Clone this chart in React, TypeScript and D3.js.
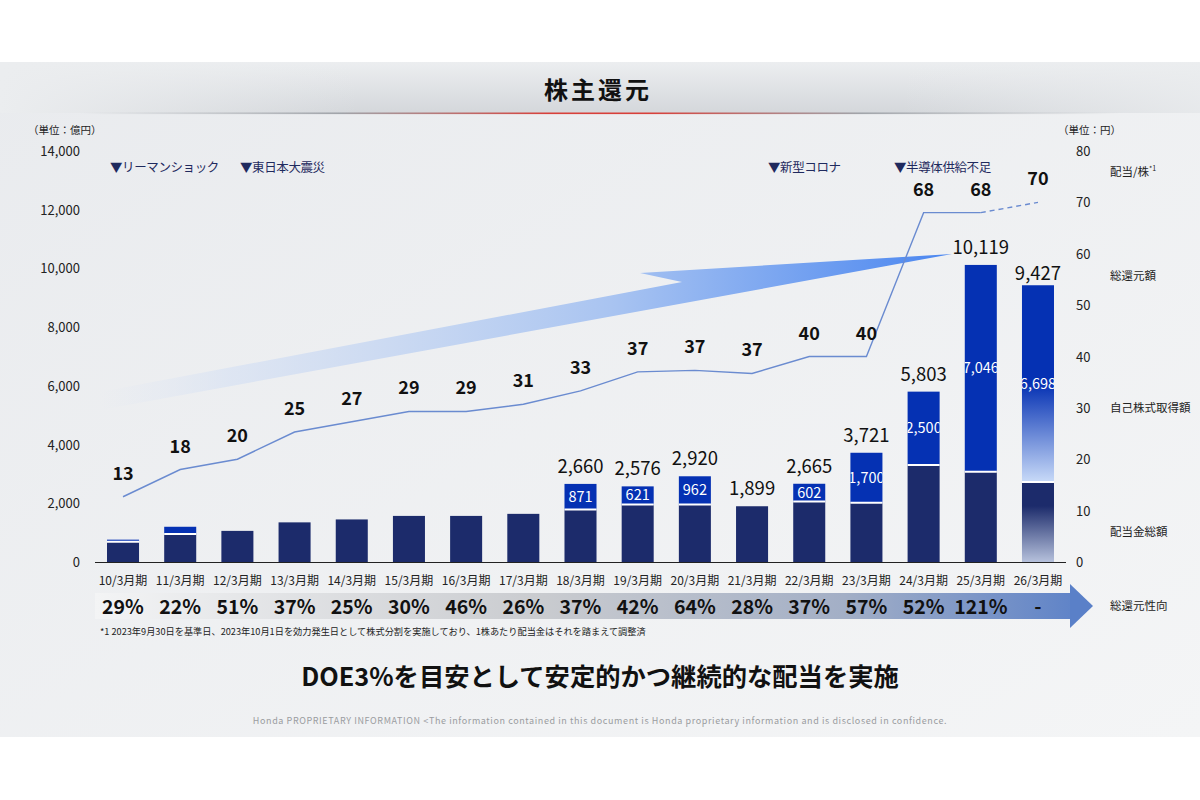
import * as d3 from 'd3'

const periods = ['10/3月期', '11/3月期', '12/3月期', '13/3月期', '14/3月期', '15/3月期', '16/3月期', '17/3月期', '18/3月期', '19/3月期', '20/3月期', '21/3月期', '22/3月期', '23/3月期', '24/3月期', '25/3月期', '26/3月期']
// 配当金総額 (億円)
const dividends = [686, 950, 1060, 1350, 1450, 1570, 1570, 1640, 1789, 1955, 1958, 1899, 2063, 2021, 3303, 3073, 2729]
// 自己株式取得額 (億円)
const buybacks = [75, 250, 0, 0, 0, 0, 0, 0, 871, 621, 962, 0, 602, 1700, 2500, 7046, 6698]
// 総還元額 labels (shown from 18/3)
const totalLabels = ['', '', '', '', '', '', '', '', '2,660', '2,576', '2,920', '1,899', '2,665', '3,721', '5,803', '10,119', '9,427']
const buybackLabels = ['', '', '', '', '', '', '', '', '871', '621', '962', '', '602', '1,700', '2,500', '7,046', '6,698']
// 配当/株 (円)
const dps = [12.7, 18, 20, 25.3, 27.3, 29.3, 29.3, 30.7, 33.3, 37, 37.3, 36.7, 40, 40, 68, 68, 70]
const dpsLabels = ['13', '18', '20', '25', '27', '29', '29', '31', '33', '37', '37', '37', '40', '40', '68', '68', '70']
// 総還元性向
const payout = ['29%', '22%', '51%', '37%', '25%', '30%', '46%', '26%', '37%', '42%', '64%', '28%', '37%', '57%', '52%', '121%', '-']
const leftTicks = [0, 2000, 4000, 6000, 8000, 10000, 12000, 14000]
const rightTicks = [0, 10, 20, 30, 40, 50, 60, 70, 80]
const events = [
  { label: '▼リーマンショック', x: 110 },
  { label: '▼東日本大震災', x: 240 },
  { label: '▼新型コロナ', x: 768 },
  { label: '▼半導体供給不足', x: 894 },
]
const sideLabels = [
  { label: '配当/株', sup: '*1', y: 176 },
  { label: '総還元額', y: 280 },
  { label: '自己株式取得額', y: 412 },
  { label: '配当金総額', y: 536 },
  { label: '総還元性向', y: 610 },
]

const FONT = '"Noto Sans CJK JP", "Noto Sans", sans-serif'
const NAVY = '#1c2b6b'
const BLUE = '#0531b3'

export default function App() {
  const x = d3.scaleBand<string>().domain(periods).range([95, 1066]).paddingInner(0.44).paddingOuter(0.21)
  const yL = d3.scaleLinear().domain([0, 14000]).range([562, 151])
  const yR = d3.scaleLinear().domain([0, 80]).range([562, 151])
  const bw = x.bandwidth()
  const cx = (i: number) => (x(periods[i]) ?? 0) + bw / 2
  const last = periods.length - 1

  const line = d3.line<number>().x((_, i) => cx(i)).y(d => yR(d))
  const solidPath = line(dps.slice(0, last)) ?? ''
  const dashPath = `M${cx(last - 1)},${yR(dps[last - 1])}L${cx(last)},${yR(dps[last])}`

  return (
    <div style={{ position: 'absolute', left: 0, top: 0 }}>
      <svg width={1200} height={800} style={{ display: 'block', fontFamily: FONT }}>
        <defs>
          <linearGradient id="slide" x1="0" y1="0" x2="1" y2="1">
            <stop offset="0" stopColor="#e9ebee" />
            <stop offset="1" stopColor="#f4f5f6" />
          </linearGradient>
          <linearGradient id="headband" x1="0" y1="0" x2="0" y2="1">
            <stop offset="0" stopColor="#eceef0" />
            <stop offset="1" stopColor="#d4d7db" />
          </linearGradient>
          <linearGradient id="headfade" x1="0" y1="0" x2="1" y2="0">
            <stop offset="0" stopColor="#ebedef" stopOpacity="1" />
            <stop offset="0.3" stopColor="#ebedef" stopOpacity="0" />
            <stop offset="0.75" stopColor="#ebedef" stopOpacity="0" />
            <stop offset="1" stopColor="#ebedef" stopOpacity="0.8" />
          </linearGradient>
          <linearGradient id="rule" x1="0" y1="0" x2="1" y2="0">
            <stop offset="0" stopColor="#9a9ea4" stopOpacity="0" />
            <stop offset="0.25" stopColor="#8e9298" stopOpacity="0.8" />
            <stop offset="0.45" stopColor="#d8403a" />
            <stop offset="0.55" stopColor="#d8403a" />
            <stop offset="0.75" stopColor="#8e9298" stopOpacity="0.8" />
            <stop offset="1" stopColor="#9a9ea4" stopOpacity="0" />
          </linearGradient>
          <linearGradient id="bigArrow" x1="100" y1="0" x2="952" y2="0" gradientUnits="userSpaceOnUse">
            <stop offset="0" stopColor="#dfe6f3" stopOpacity="0" />
            <stop offset="0.15" stopColor="#d8e2f3" stopOpacity="0.7" />
            <stop offset="0.6" stopColor="#a9c4f1" />
            <stop offset="1" stopColor="#4a86f0" />
          </linearGradient>
          <linearGradient id="payBand" x1="95" y1="0" x2="1092" y2="0" gradientUnits="userSpaceOnUse">
            <stop offset="0" stopColor="#f3f4f5" />
            <stop offset="0.45" stopColor="#c9cbcf" />
            <stop offset="0.75" stopColor="#a3afc6" />
            <stop offset="1" stopColor="#5a80c8" />
          </linearGradient>
          <linearGradient id="fcBlue" x1="0" y1="0" x2="0" y2="1">
            <stop offset="0" stopColor={BLUE} />
            <stop offset="0.5" stopColor={BLUE} />
            <stop offset="1" stopColor="#c8daf8" />
          </linearGradient>
          <linearGradient id="fcNavy" x1="0" y1="0" x2="0" y2="1">
            <stop offset="0" stopColor={NAVY} />
            <stop offset="0.3" stopColor={NAVY} />
            <stop offset="1" stopColor="#b6c1dc" />
          </linearGradient>
          {periods.map((p, i) => (
            <clipPath id={`clip${i}`} key={p}>
              <rect x={x(p)} y={0} width={bw} height={800} />
            </clipPath>
          ))}
        </defs>

        {/* slide background */}
        <rect x={0} y={62} width={1200} height={675} fill="url(#slide)" />
        <rect x={0} y={62} width={1200} height={51} fill="url(#headband)" />
        <rect x={0} y={62} width={1200} height={51} fill="url(#headfade)" />
        <rect x={80} y={112.5} width={1040} height={1.6} fill="url(#rule)" />
        <text x={598} y={99} textAnchor="middle" fontSize={24} fontWeight={700} letterSpacing={3} fill="#111">株主還元</text>

        {/* units */}
        <text x={28} y={134} fontSize={10.5} fill="#222">（単位：億円）</text>
        <text x={1058} y={134} fontSize={10.5} fill="#222">（単位：円）</text>

        {/* left axis */}
        {leftTicks.map(t => (
          <text key={t} x={80} y={yL(t) + 5} textAnchor="end" fontSize={13} fill="#222">{d3.format(',')(t)}</text>
        ))}
        {/* right axis */}
        {rightTicks.map(t => (
          <text key={t} x={1076} y={yR(t) + 5} fontSize={13} fill="#222">{t}</text>
        ))}
        {sideLabels.map(s => (
          <text key={s.label} x={1110} y={s.y} fontSize={11.5} fill="#222">
            {s.label}
            {s.sup && <tspan fontSize={7} dy={-5}>{s.sup}</tspan>}
          </text>
        ))}

        {/* events */}
        {events.map(e => (
          <text key={e.label} x={e.x} y={172} fontSize={12.5} letterSpacing={-0.4} fill="#1f2a5e">{e.label}</text>
        ))}

        {/* big arrow */}
        <path d="M100,392 L682,282 L640,273 L952,254 L100,410 Z" fill="url(#bigArrow)" />

        {/* bars */}
        {periods.map((p, i) => {
          const bx = x(p) ?? 0
          const d = dividends[i]
          const b = buybacks[i]
          const fc = i === last
          const yd = yL(d)
          const yt = yL(d + b)
          return (
            <g key={p}>
              <rect x={bx} y={yd} width={bw} height={yL(0) - yd} fill={fc ? 'url(#fcNavy)' : NAVY} />
              {b > 0 && (
                <>
                  <rect x={bx} y={yt} width={bw} height={yd - yt} fill={fc ? 'url(#fcBlue)' : BLUE} />
                  <line x1={bx} x2={bx + bw} y1={yd} y2={yd} stroke="#ffffff" strokeWidth={2} />
                </>
              )}
              {buybackLabels[i] && (
                <text x={cx(i)} y={(yt + yd) / 2 + 5} textAnchor="middle" fontSize={14.5} fill="#fff" clipPath={`url(#clip${i})`}>
                  {buybackLabels[i]}
                </text>
              )}
              {totalLabels[i] && (
                <text x={cx(i)} y={yt - (fc ? 5 : 11)} textAnchor="middle" fontSize={18.5} fill="#111">{totalLabels[i]}</text>
              )}
            </g>
          )
        })}
        <line x1={95} x2={1066} y1={562.5} y2={562.5} stroke="#222" strokeWidth={1} />

        {/* dividend per share line */}
        <path d={solidPath} fill="none" stroke="#6a8bd0" strokeWidth={1.4} />
        <path d={dashPath} fill="none" stroke="#6a8bd0" strokeWidth={1.4} strokeDasharray="5,4" />
        {dpsLabels.map((l, i) => (
          <text key={i} x={cx(i)} y={yR(dps[i]) - 17} textAnchor="middle" fontSize={18} fontWeight={700} fill="#111">{l}</text>
        ))}

        {/* category labels */}
        {periods.map((p, i) => (
          <text key={p} x={cx(i)} y={585} textAnchor="middle" fontSize={12} fill="#222">{p}</text>
        ))}

        {/* payout ratio band */}
        <rect x={95} y={593} width={976} height={26} fill="url(#payBand)" />
        <path d="M1070,584 L1093,606 L1070,628 Z" fill="#5a80c8" />
        {payout.map((v, i) => (
          <text key={i} x={cx(i)} y={614} textAnchor="middle" fontSize={19.5} fontWeight={700} fill="#111">{v}</text>
        ))}

        {/* footnote */}
        <text x={100} y={635} fontSize={9.2} fill="#222">*1 2023年9月30日を基準日、2023年10月1日を効力発生日として株式分割を実施しており、1株あたり配当金はそれを踏まえて調整済</text>

        <text x={600} y={686} textAnchor="middle" fontSize={25.3} fontWeight={700} fill="#111">DOE3%を目安として安定的かつ継続的な配当を実施</text>
        <text x={600} y={724} textAnchor="middle" fontSize={9} fill="#9a9ca0" letterSpacing={0.6}>
          Honda PROPRIETARY INFORMATION &lt;The information contained in this document is Honda proprietary information and is disclosed in confidence.
        </text>
      </svg>
    </div>
  )
}
